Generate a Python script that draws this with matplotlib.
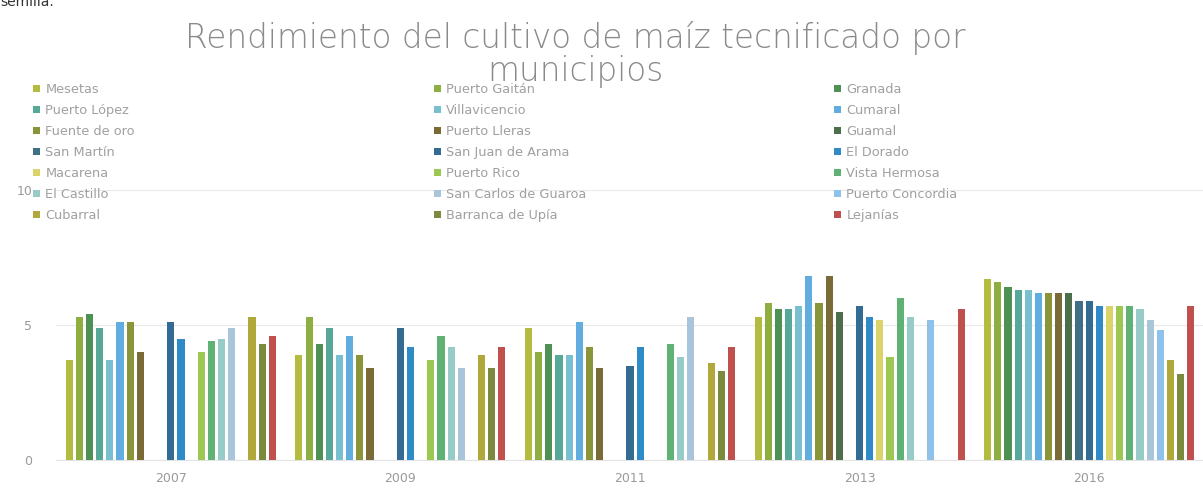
import numpy as np
import matplotlib.pyplot as plt
from matplotlib.patches import Patch

# categories and series (order as in the Excel legend, row by row)
years = ["2007", "2009", "2011", "2013", "2016"]
municipios = [
    "Mesetas", "Puerto Gaitán", "Granada",
    "Puerto López", "Villavicencio", "Cumaral",
    "Fuente de oro", "Puerto Lleras", "Guamal",
    "San Martín", "San Juan de Arama", "El Dorado",
    "Macarena", "Puerto Rico", "Vista Hermosa",
    "El Castillo", "San Carlos de Guaroa", "Puerto Concordia",
    "Cubarral", "Barranca de Upía", "Lejanías",
]
colores = [
    "#b3bc3e", "#8fae42", "#4f9154",
    "#58a89a", "#78bfcf", "#62ade0",
    "#8a9438", "#7a6a36", "#4c6e4a",
    "#3f6f84", "#336b92", "#2f8ac8",
    "#d9d36a", "#9cc852", "#5fb274",
    "#96cbc8", "#a9c5d9", "#8ec2ea",
    "#b0a83a", "#7b8a3c", "#c0504d",
]

nan = np.nan
r2007 = [3.7, 5.3, 5.4, 4.9, 3.7, 5.1, 5.1, 4.0, nan, nan, 5.1, 4.5,
         nan, 4.0, 4.4, 4.5, 4.9, nan, 5.3, 4.3, 4.6]
r2009 = [3.9, 5.3, 4.3, 4.9, 3.9, 4.6, 3.9, 3.4, nan, nan, 4.9, 4.2,
         nan, 3.7, 4.6, 4.2, 3.4, nan, 3.9, 3.4, 4.2]
r2011 = [4.9, 4.0, 4.3, 3.9, 3.9, 5.1, 4.2, 3.4, nan, nan, 3.5, 4.2,
         nan, nan, 4.3, 3.8, 5.3, nan, 3.6, 3.3, 4.2]
r2013 = [5.3, 5.8, 5.6, 5.6, 5.7, 6.8, 5.8, 6.8, 5.5, nan, 5.7, 5.3,
         5.2, 3.8, 6.0, 5.3, nan, 5.2, nan, nan, 5.6]
r2016 = [6.7, 6.6, 6.4, 6.3, 6.3, 6.2, 6.2, 6.2, 6.2, 5.9, 5.9, 5.7,
         5.7, 5.7, 5.7, 5.6, 5.2, 4.8, 3.7, 3.2, 5.7]

datos = np.array([r2007, r2009, r2011, r2013, r2016])

fig = plt.figure(figsize=(12.03, 4.96), dpi=100)
ax = fig.add_axes([56 / 1203, 36 / 496, 1148 / 1203, 270 / 496])

x = np.arange(len(years))
n = len(municipios)
paso = 0.0442
ancho = 0.031
for i in range(n):
    ax.bar(x + (i - (n - 1) / 2) * paso, datos[:, i], width=ancho,
           color=colores[i], zorder=3)

ax.set_xlim(-0.5, len(years) - 0.5)
ax.set_ylim(0, 10)
ax.set_yticks([0, 5, 10])
ax.set_xticks(x)
ax.set_xticklabels(years)
ax.tick_params(length=0, colors="#9a9a9a", labelsize=9)
ax.tick_params(axis="y", pad=17)
ax.tick_params(axis="x", pad=9)
ax.grid(axis="y", color="#e9e9e9", linewidth=0.8, zorder=0)
for s in ["top", "right", "left"]:
    ax.spines[s].set_visible(False)
ax.spines["bottom"].set_color("#e3e3e3")

# title
titulo = dict(ha="center", va="center", fontsize=23.5, color="#8a8a8a",
              family="DejaVu Sans", weight="light")
fig.text(0.478, 1 - 38 / 496, "Rendimiento del cultivo de maíz tecnificado por", **titulo)
fig.text(0.478, 1 - 72 / 496, "municipios", **titulo)
fig.text(0.0, 1.0 - 2 / 496, "semilla.", ha="left", va="center", fontsize=10, color="#333333")

# legend: three columns, Excel fills them row by row
handles = [Patch(facecolor=c, edgecolor="none") for c in colores]
col_x = [33, 434, 834]
for c in range(3):
    idx = list(range(c, n, 3))
    fig.legend([handles[k] for k in idx], [municipios[k] for k in idx],
               loc="upper left", bbox_to_anchor=(col_x[c] / 1203, 1 - 83 / 496),
               frameon=False, ncol=1, fontsize=9.3, labelcolor="#a0a0a0",
               handlelength=0.55, handleheight=0.55, handletextpad=0.4,
               labelspacing=0.62, borderpad=0, borderaxespad=0)

fig.savefig("out.png", dpi=100, facecolor="white")
